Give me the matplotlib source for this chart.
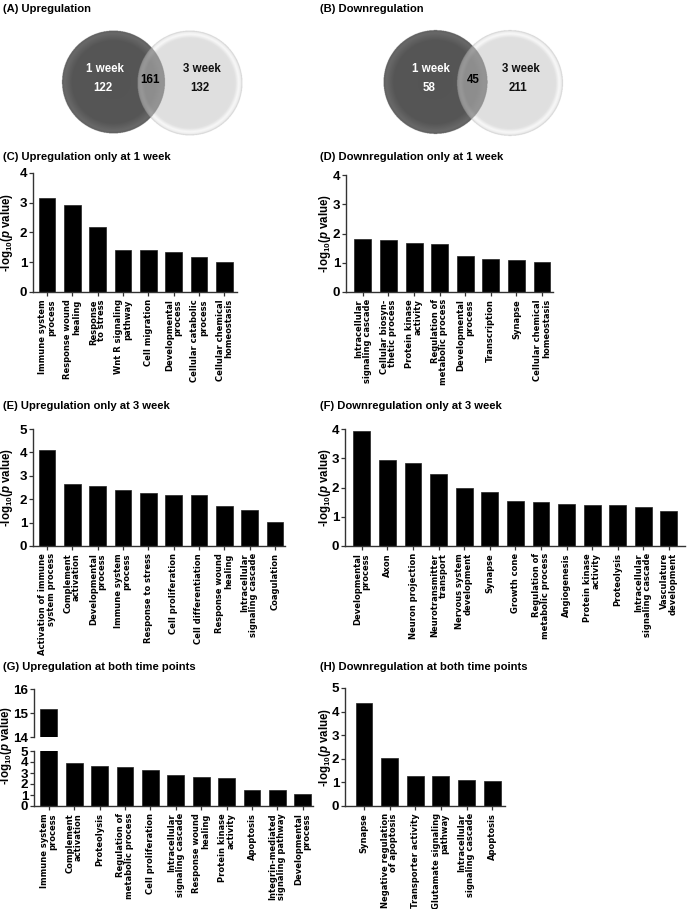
import matplotlib
matplotlib.use("Agg")
import matplotlib.pyplot as plt
import numpy as np

plt.rcParams['font.family'] = ['Liberation Sans', 'DejaVu Sans']
plt.rcParams['font.weight'] = 'bold'
plt.rcParams['mathtext.fontset'] = 'custom'
plt.rcParams['mathtext.rm'] = 'Liberation Sans:bold'
plt.rcParams['mathtext.it'] = 'Liberation Sans:bold:italic'
plt.rcParams['mathtext.bf'] = 'Liberation Sans:bold'

# ---------------- data ----------------
venn_up = [122, 161, 132]      # 1 week only, both, 3 week only
venn_down = [58, 45, 211]
venn_names = ["1 week", "3 week"]

c_labels = ["Immune system\nprocess", "Response wound\nhealing", "Response\nto stress",
            "Wnt R signaling\npathway", "Cell migration", "Developmental\nprocess",
            "Cellular catabolic\nprocess", "Cellular chemical\nhomeostasis"]
c_values = [3.15, 2.94, 2.17, 1.41, 1.40, 1.35, 1.16, 1.02]

d_labels = ["Intracellular\nsignaling cascade", "Cellular biosyn-\nthetic process",
            "Protein kinase\nactivity", "Regulation of\nmetabolic process",
            "Developmental\nprocess", "Transcription", "Synapse",
            "Cellular chemical\nhomeostasis"]
d_values = [1.81, 1.79, 1.69, 1.65, 1.23, 1.14, 1.11, 1.03]

e_labels = ["Activation of immune\nsystem process", "Complement\nactivation",
            "Developmental\nprocess", "Immune system\nprocess", "Response to stress",
            "Cell proliferation", "Cell differentiation", "Response wound\nhealing",
            "Intracellular\nsignaling cascade", "Coagulation"]
e_values = [4.11, 2.66, 2.55, 2.38, 2.26, 2.19, 2.16, 1.70, 1.55, 1.02]

f_labels = ["Developmental\nprocess", "Axon", "Neuron projection",
            "Neurotransmitter\ntransport", "Nervous system\ndevelopment", "Synapse",
            "Growth cone", "Regulation of\nmetabolic process", "Angiogenesis",
            "Protein kinase\nactivity", "Proteolysis", "Intracellular\nsignaling cascade",
            "Vasculature\ndevelopment"]
f_values = [3.92, 2.94, 2.85, 2.45, 1.97, 1.86, 1.55, 1.49, 1.44, 1.40, 1.39, 1.32, 1.18]

g_labels = ["Immune system\nprocess", "Complement\nactivation", "Proteolysis",
            "Regulation of\nmetabolic process", "Cell proliferation",
            "Intracellular\nsignaling cascade", "Response wound\nhealing",
            "Protein kinase\nactivity", "Apoptosis", "Integrin-mediated\nsignaling pathway",
            "Developmental\nprocess"]
g_values = [15.17, 3.95, 3.62, 3.55, 3.28, 2.78, 2.66, 2.57, 1.42, 1.41, 1.07]

h_labels = ["Synapse", "Negative regulation\nof apoptosis", "Transporter activity",
            "Glutamate signaling\npathway", "Intracellular\nsignaling cascade", "Apoptosis"]
h_values = [4.36, 2.04, 1.26, 1.26, 1.10, 1.06]

titles = ["(A) Upregulation", "(B) Downregulation",
          "(C) Upregulation only at 1 week", "(D) Downregulation only at 1 week",
          "(E) Upregulation only at 3 week", "(F) Downregulation only at 3 week",
          "(G) Upregulation at both time points", "(H) Downregulation at both time points"]

YLABEL = r'-log$_{\mathrm{10}}$($\mathit{p}$ value)'

# ---------------- layout helpers ----------------
W, H = 687, 909
fig = plt.figure(figsize=(W / 100, H / 100), dpi=100)


def rect(x0, x1, ytop, ybot):
    return [x0 / W, 1 - ybot / H, (x1 - x0) / W, (ybot - ytop) / H]


def ftext(x, y, s, **kw):
    fig.text(x / W, 1 - y / H, s, **kw)


SPINE = '#333333'
TICK_FS = 9.6
CAT_FS = 6.0
TITLE_FS = 8.1
YL_FS = 8.3
BAR_W = 0.66


def style(ax):
    for s in ['top', 'right']:
        ax.spines[s].set_visible(False)
    for s in ['left', 'bottom']:
        ax.spines[s].set_color(SPINE)
        ax.spines[s].set_linewidth(1.0)
    ax.tick_params(axis='both', direction='out', length=3, width=0.9, color=SPINE)
    ax.tick_params(axis='y', pad=1.2)
    ax.tick_params(axis='x', pad=2.2)


def set_ticks(ax, xs, labels, yticks):
    ax.set_yticks(yticks)
    ax.set_yticklabels([str(v) for v in yticks], fontsize=TICK_FS, fontweight='bold')
    ax.set_xticks(xs)
    if labels is None:
        ax.set_xticklabels([])
    else:
        ax.set_xticklabels(labels, rotation=90, multialignment='right',
                           fontweight='bold', fontsize=CAT_FS,
                           family=['DejaVu Sans'], linespacing=0.95)


def barpanel(rect_px, labels, values, ymax, xlim, ylab_x):
    ax = fig.add_axes(rect(*rect_px))
    x = list(range(len(values)))
    ax.bar(x, values, width=BAR_W, color='black', edgecolor='#222222', linewidth=0.5)
    ax.set_xlim(*xlim)
    ax.set_ylim(0, ymax)
    set_ticks(ax, x, labels, list(range(0, ymax + 1)))
    style(ax)
    yc = (rect_px[2] + rect_px[3]) / 2
    ftext(ylab_x, yc, YLABEL, rotation=90, ha='center', va='center',
          fontsize=YL_FS, fontweight='bold')
    return ax


# ---------------- Venn diagrams ----------------
def ramp(d, pts, vals):
    return np.interp(d, pts, vals)


def venn(x0, x1, counts, c1, r1, c2, r2, pos):
    y0, y1 = 18, 146
    ax = fig.add_axes(rect(x0, x1, y0, y1))
    ax.set_xlim(x0, x1)
    ax.set_ylim(y1, y0)
    ax.axis('off')
    ss = 3
    xs = np.linspace(x0, x1, int((x1 - x0) * ss))
    ys = np.linspace(y0, y1, int((y1 - y0) * ss))
    X, Y = np.meshgrid(xs, ys)
    d1 = np.hypot(X - c1[0], Y - c1[1]) / r1
    d2 = np.hypot(X - c2[0], Y - c2[1]) / r2
    img = np.ones_like(X)
    light = ramp(d2, [0, 0.86, 0.93, 0.97, 1.0], [0.875, 0.875, 0.97, 0.93, 0.80])
    dark = ramp(d1, [0, 0.80, 0.95, 1.0], [0.33, 0.335, 0.41, 0.37])
    over = 0.55 + (light - 0.875) * 0.45 + (dark - 0.33) * 0.4
    in1 = d1 <= 1.0
    in2 = d2 <= 1.0
    img = np.where(in2, light, img)
    img = np.where(in1 & ~in2, dark, img)
    img = np.where(in1 & in2, over, img)
    ax.imshow(img, cmap='gray', vmin=0, vmax=1, extent=(x0, x1, y1, y0),
              interpolation='antialiased', aspect='auto', zorder=1)
    (n1x, n1y), (v1x, v1y), (bx, by), (n2x, n2y), (v2x, v2y) = pos
    kw = dict(ha='center', va='center', fontsize=8.3, fontweight='bold', zorder=6)
    ax.text(n1x, n1y, venn_names[0], color='white', **kw)
    ax.text(v1x, v1y, str(counts[0]), color='white', **kw)
    ax.text(bx, by, str(counts[1]), color='black', **kw)
    ax.text(n2x, n2y, venn_names[1], color='#111111', **kw)
    ax.text(v2x, v2y, str(counts[2]), color='#111111', **kw)


venn(0, 343, venn_up, (113.5, 82), 51.5, (190, 83), 52.5,
     [(105, 69), (103, 88), (150, 80), (202, 69), (200, 88)])
venn(343, 687, venn_down, (435.5, 82), 52, (510, 83), 53,
     [(431, 69), (429, 88), (473, 80), (521, 69), (518, 88)])

# ---------------- titles ----------------
tpos = [(3, 9), (320, 9), (3, 157), (320, 157), (3, 406), (320, 406), (3, 667), (320, 667)]
for (tx, ty), t in zip(tpos, titles):
    ftext(tx, ty, t, ha='left', va='center', fontsize=TITLE_FS, fontweight='bold')

# ---------------- bar panels ----------------
barpanel((33, 237, 173, 292), c_labels, c_values, 4, (-0.55, 7.5), 7)
barpanel((346, 553, 175, 292), d_labels, d_values, 4, (-0.66, 7.43), 325)
barpanel((33, 285, 429, 546), e_labels, e_values, 5, (-0.55, 9.4), 7)
barpanel((345, 685, 429, 546), f_labels, f_values, 4, (-0.66, 12.63), 325)
barpanel((345, 505, 688, 806), h_labels, h_values, 5, (-0.74, 5.5), 325)

# G: broken axis
g_x = list(range(len(g_values)))
axl = fig.add_axes(rect(34, 313, 751, 806))
axl.bar(g_x, g_values, width=BAR_W, color='black', edgecolor='#222222', linewidth=0.5)
axl.set_xlim(-0.58, 10.4)
axl.set_ylim(0, 5)
set_ticks(axl, g_x, g_labels, list(range(0, 6)))
style(axl)

axu = fig.add_axes(rect(34, 313, 689, 737))
axu.bar(g_x, g_values, width=BAR_W, color='black', edgecolor='#222222', linewidth=0.5)
axu.set_xlim(-0.58, 10.4)
axu.set_ylim(14, 16)
set_ticks(axu, [], None, [14, 15, 16])
style(axu)
axu.spines['bottom'].set_visible(False)
ftext(6.5, 745, YLABEL, rotation=90, ha='center', va='center', fontsize=YL_FS, fontweight='bold')

fig.savefig("out.png", dpi=100, facecolor='white')
